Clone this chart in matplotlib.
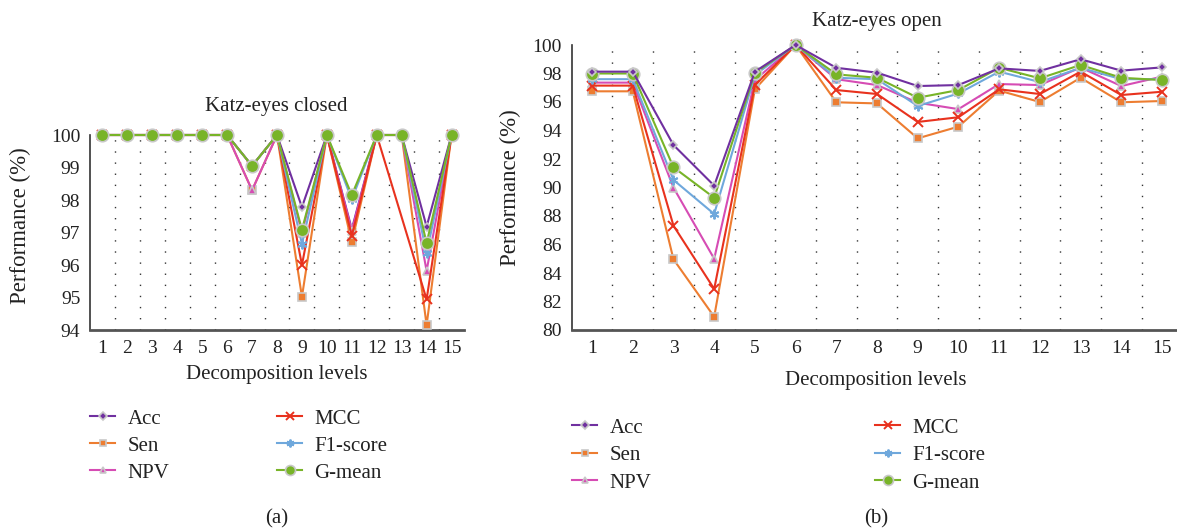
import numpy as np
import matplotlib
matplotlib.use("Agg")
import matplotlib.pyplot as plt
from matplotlib.lines import Line2D

plt.rcParams['font.family'] = ['Liberation Serif', 'DejaVu Serif']

levels = list(range(1, 16))
series_names = ["Acc", "Sen", "NPV", "MCC", "F1-score", "G-mean"]

# Panel (a): Katz-eyes closed
closed_acc = [100, 100, 100, 100, 100, 100, 99.05, 100, 97.78, 100, 97.10, 100, 100, 97.18, 100]
closed_sen = [100, 100, 100, 100, 100, 100, 98.30, 100, 95.02, 100, 96.70, 100, 100, 94.15, 100]
closed_npv = [100, 100, 100, 100, 100, 100, 98.30, 100, 97.00, 100, 97.05, 100, 100, 95.82, 100]
closed_mcc = [100, 100, 100, 100, 100, 100, 99.05, 100, 96.00, 100, 96.90, 100, None, 94.94, 100]
closed_f1 = [100, 100, 100, 100, 100, 100, 99.05, 100, 96.65, 100, 98.02, 100, 100, 96.36, 100]
closed_gmean = [100, 100, 100, 100, 100, 100, 99.05, 100, 97.08, 100, 98.15, 100, 100, 96.67, 100]

# Panel (b): Katz-eyes open
open_acc = [98.13, 98.13, 92.98, 90.13, 98.13, 100, 98.40, 98.06, 97.12, 97.19, 98.36, 98.18, 99.00, 98.20, 98.43]
open_sen = [96.75, 96.75, 84.96, 80.93, 96.90, 100, 95.98, 95.90, 93.45, 94.27, 96.80, 96.00, 97.70, 95.98, 96.07]
open_npv = [97.36, 97.36, 89.99, 85.00, 97.54, 100, 97.60, 97.19, 95.95, 95.50, 97.26, 97.19, 98.42, 97.12, 97.78]
open_mcc = [97.15, 97.15, 87.32, 82.88, 97.20, 100, 96.84, 96.56, 94.60, 94.93, 96.89, 96.56, 98.13, 96.49, 96.72]
open_f1 = [97.60, 97.60, 90.53, 88.14, 97.90, 100, 97.70, 97.60, 95.72, 96.60, 98.13, 97.40, 98.40, 97.60, 97.60]
open_gmean = [98.00, 98.00, 91.42, 89.28, 98.05, 100, 97.94, 97.70, 96.30, 96.84, 98.40, 97.66, 98.60, 97.70, 97.54]

colors = ["#7030A0", "#ED7D31", "#D64CB4", "#E8321E", "#6FA8DC", "#78B428"]
markers = ["D", "s", "^", "x", (6, 2, 0), "o"]
msizes = [4.5, 6, 6, 7, 7, 9]
halo = "#C8C8C8"

fig = plt.figure(figsize=(11.77, 5.31), dpi=100)
W, H = 1177, 531

def fx(px):
    return px / W

def fy(py):
    return 1 - py / H

ax_a = fig.add_axes([fx(90), fy(330), fx(464 - 90), (330 - 135) / H])
ax_b = fig.add_axes([fx(571.7), fy(330), 1 - fx(571.7), (330 - 45) / H])

def style_marker(i):
    kw = dict(marker=markers[i], markersize=msizes[i], color=colors[i], lw=1.5)
    if markers[i] in ("x",) or isinstance(markers[i], tuple):
        kw.update(markeredgecolor=colors[i], markeredgewidth=1.4)
    else:
        kw.update(markerfacecolor=colors[i], markeredgecolor=halo, markeredgewidth=1.2)
    return kw

def draw(ax, data, zorders):
    for i, vals in enumerate(data):
        xs = [x for x, v in zip(levels, vals) if v is not None]
        ys = [v for v in vals if v is not None]
        ax.plot(xs, ys, clip_on=False, zorder=zorders[i], **style_marker(i))

def style_axes(ax, ylim, yticks, xright):
    ax.set_xlim(0.5, xright)
    ax.set_ylim(*ylim)
    ax.set_yticks(yticks)
    ax.set_xticks(levels)
    ax.set_xticks(np.arange(1.5, 15, 1), minor=True)
    ax.grid(which='minor', axis='x', linestyle=(0, (1, 7)), color='#333333', lw=1.0)
    ax.tick_params(which='both', length=0, labelsize=14, colors='#222222', pad=7)
    for s in ('top', 'right'):
        ax.spines[s].set_visible(False)
    ax.spines['left'].set_color('#333333')
    ax.spines['left'].set_linewidth(1.2)
    ax.spines['bottom'].set_color('#555555')
    ax.spines['bottom'].set_linewidth(2.0)
    ax.set_axisbelow(True)

data_a = [closed_acc, closed_sen, closed_npv, closed_mcc, closed_f1, closed_gmean]
data_b = [open_acc, open_sen, open_npv, open_mcc, open_f1, open_gmean]
draw(ax_a, data_a, [3, 3, 3, 3, 3, 4])
draw(ax_b, data_b, [5, 3, 3, 3, 3, 4])

style_axes(ax_a, (94, 100), range(94, 101), 15.5)
style_axes(ax_b, (80, 100), range(80, 101, 2), 0.5 + (1177 - 571.7) / 40.71)

txt = dict(color='#222222', fontsize=15)
fig.text(fx(276.7), fy(106.7), "Katz-eyes closed", ha='center', va='center', **txt)
fig.text(fx(876.7), fy(21.7), "Katz-eyes open", ha='center', va='center', **txt)
fig.text(fx(277), fy(374), "Decomposition levels", ha='center', va='center', **txt)
fig.text(fx(876), fy(381), "Decomposition levels", ha='center', va='center', **txt)
fig.text(fx(20), fy(226), "Performance (%)", ha='center', va='center', rotation=90, color='#222222', fontsize=16.5)
fig.text(fx(510), fy(188), "Performance (%)", ha='center', va='center', rotation=90, color='#222222', fontsize=16.5)
fig.text(fx(277), fy(519), "(a)", ha='center', va='center', **txt)
fig.text(fx(876), fy(519), "(b)", ha='center', va='center', **txt)

def handle(i):
    kw = style_marker(i)
    ms = kw.pop('markersize')
    return Line2D([], [], markersize=ms * 0.8, **kw)

def add_legend(idx, x, y, rowgap):
    hs = [handle(i) for i in idx]
    labels = [series_names[i] for i in idx]
    leg = fig.legend(hs, labels, loc='upper left', bbox_to_anchor=(fx(x), fy(y)),
                     frameon=False, fontsize=15, handlelength=1.2, handletextpad=0.6,
                     borderpad=0, borderaxespad=0, labelspacing=rowgap, markerscale=1.0)
    for t in leg.get_texts():
        t.set_color('#222222')
    return leg

add_legend([0, 1, 2], 90, 409, 0.36)
add_legend([3, 4, 5], 277, 409, 0.36)
add_legend([0, 1, 2], 572, 418, 0.38)
add_legend([3, 4, 5], 875, 418, 0.38)

fig.savefig("out.png", dpi=100)
